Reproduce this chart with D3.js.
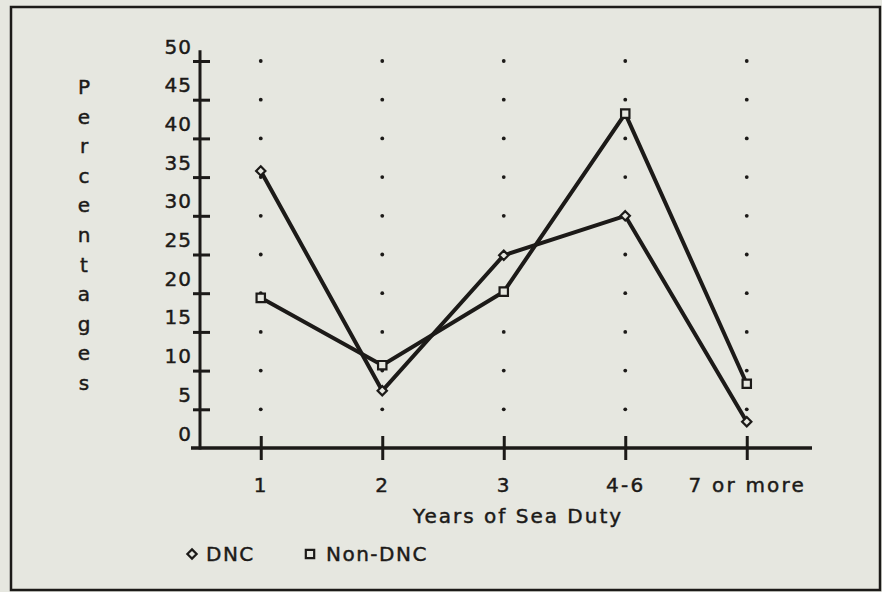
<!DOCTYPE html>
<html>
<head>
<meta charset="utf-8">
<script src="https://cdn.jsdelivr.net/npm/d3@7"></script>
<style>
  html, body { margin: 0; padding: 0; background: #e6e7e0; }
  svg { display: block; }
  text { font-family: "DejaVu Sans", sans-serif; fill: #1c1a18; stroke: #1c1a18; stroke-width: 0.45px; }
</style>
</head>
<body>
<svg id="chart" width="882" height="592"></svg>
<script>
// ----- Data -----
const categories = ["1", "2", "3", "4-6", "7 or more"];
const dncValues = [35.8, 7.4, 24.9, 30.0, 3.4];
const nonDncValues = [19.4, 10.7, 20.2, 43.2, 8.3];
const yTicks = [0, 5, 10, 15, 20, 25, 30, 35, 40, 45, 50];
const yLabelLetters = "Percentages".split("");

const INK = "#1c1a18";
const BG = "#e6e7e0";

const svg = d3.select("#chart");

// outer frame
svg.append("rect")
  .attr("x", 11).attr("y", 7)
  .attr("width", 869).attr("height", 583)
  .attr("fill", BG)
  .attr("stroke", INK)
  .attr("stroke-width", 2.5);

// ----- Scales -----
const x = d3.scalePoint().domain(categories).range([200, 807.5]).padding(0.5);
const y = d3.scaleLinear().domain([0, 50]).range([448, 61]);

// dotted grid: one dot per category per tick level
const dotLevels = yTicks.filter(d => d > 0);
const dotG = svg.append("g");
categories.forEach(c => {
  dotG.selectAll(null).data(dotLevels).enter().append("circle")
    .attr("cx", x(c))
    .attr("cy", d => y(d))
    .attr("r", 1.9)
    .attr("fill", INK);
});

// ----- Y axis -----
const yAxisG = svg.append("g")
  .attr("transform", "translate(200,0)")
  .call(d3.axisLeft(y).tickValues(yTicks).tickSizeOuter(0));
yAxisG.select(".domain").remove();
yAxisG.selectAll(".tick line")
  .attr("x1", -7).attr("x2", 10)
  .attr("stroke", INK).attr("stroke-width", 3)
  .attr("display", d => d === 0 ? "none" : null);
yAxisG.selectAll(".tick text")
  .attr("x", -8).attr("dy", -8)
  .attr("font-size", 20)
  .attr("font-family", "DejaVu Sans, sans-serif")
  .attr("letter-spacing", 1)
  .attr("fill", INK)
  .attr("dominant-baseline", "alphabetic");
yAxisG.append("line")
  .attr("x1", 0).attr("x2", 0)
  .attr("y1", y(0) + 1.5).attr("y2", y(51.4))
  .attr("stroke", INK).attr("stroke-width", 3);

// ----- X axis -----
const xAxisG = svg.append("g")
  .attr("transform", `translate(0,${y(0)})`)
  .call(d3.axisBottom(x).tickSizeOuter(0));
xAxisG.select(".domain").remove();
xAxisG.append("line")
  .attr("x1", 191).attr("x2", 812)
  .attr("y1", 0).attr("y2", 0)
  .attr("stroke", INK).attr("stroke-width", 3.5);
xAxisG.selectAll(".tick line")
  .attr("y1", -12).attr("y2", 12)
  .attr("stroke", INK).attr("stroke-width", 3);
xAxisG.selectAll(".tick text")
  .attr("y", 44).attr("dy", 0)
  .attr("font-size", 20)
  .attr("font-family", "DejaVu Sans, sans-serif")
  .attr("letter-spacing", 2.2)
  .attr("fill", INK);

// axis titles
svg.append("text")
  .attr("x", 518).attr("y", 523)
  .attr("text-anchor", "middle")
  .attr("font-size", 20)
  .attr("letter-spacing", 2)
  .text("Years of Sea Duty");

svg.append("g").selectAll("text").data(yLabelLetters).enter().append("text")
  .attr("x", 84)
  .attr("y", (d, i) => 94 + i * 29.6)
  .attr("text-anchor", "middle")
  .attr("font-size", 20)
  .text(d => d);

// ----- Lines -----
const line = d3.line()
  .x((d, i) => x(categories[i]))
  .y(d => y(d));

[dncValues, nonDncValues].forEach(vals => {
  svg.append("path")
    .attr("d", line(vals))
    .attr("fill", "none")
    .attr("stroke", INK)
    .attr("stroke-width", 4)
    .attr("stroke-linejoin", "miter");
});

// markers
const diamond = d3.symbol().type(d3.symbolDiamond2).size(55);
const square = d3.symbol().type(d3.symbolSquare).size(70);

svg.append("g").selectAll("path").data(dncValues).enter().append("path")
  .attr("d", diamond)
  .attr("transform", (d, i) => `translate(${x(categories[i])},${y(d)})`)
  .attr("fill", BG).attr("stroke", INK).attr("stroke-width", 2.2);

svg.append("g").selectAll("path").data(nonDncValues).enter().append("path")
  .attr("d", square)
  .attr("transform", (d, i) => `translate(${x(categories[i])},${y(d)})`)
  .attr("fill", BG).attr("stroke", INK).attr("stroke-width", 2.2);

// ----- Legend -----
const legend = svg.append("g");
legend.append("path")
  .attr("d", diamond)
  .attr("transform", "translate(192,554)")
  .attr("fill", BG).attr("stroke", INK).attr("stroke-width", 2.2);
legend.append("text")
  .attr("x", 206).attr("y", 561)
  .attr("font-size", 20).attr("letter-spacing", 1.5)
  .text("DNC");
legend.append("path")
  .attr("d", square)
  .attr("transform", "translate(310,554)")
  .attr("fill", BG).attr("stroke", INK).attr("stroke-width", 2.2);
legend.append("text")
  .attr("x", 326).attr("y", 561)
  .attr("font-size", 20).attr("letter-spacing", 1.5)
  .text("Non-DNC");
</script>
</body>
</html>
